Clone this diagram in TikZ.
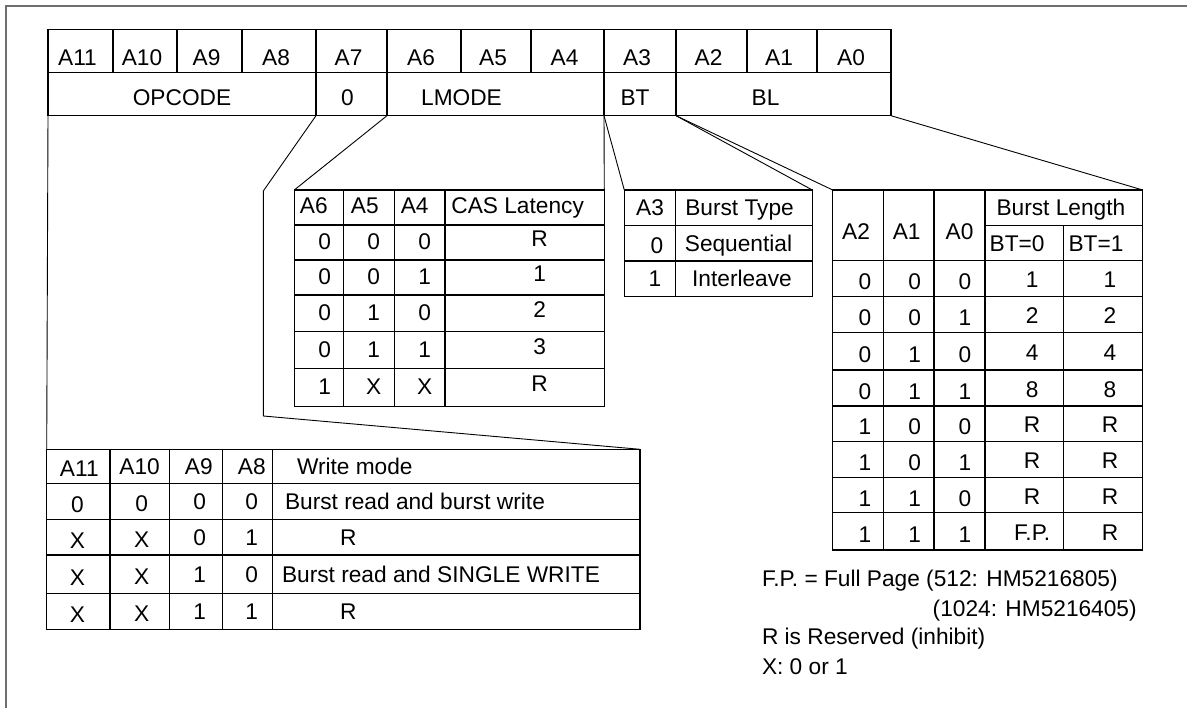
\documentclass[tikz,border=0pt]{standalone}
\usepackage{fontspec}
\setmainfont{Liberation Sans}
\definecolor{framegray}{RGB}{110,110,110}
\tikzset{
  cellbox/.style={draw=black, line width=1.3pt, anchor=north west, inner sep=0pt, outer sep=0pt},
  txt/.style={font=\fontsize{22.7pt}{27pt}\selectfont, inner sep=0pt, outer sep=0pt, text height=16.2pt, text depth=0pt, anchor=center},
  conn/.style={draw=black, line width=0.9pt},
  framel/.style={draw=framegray, line width=1.3pt}
}
% cell with centred text: name, x1, y1, x2, y2, text, text options
\newcommand\tc[7]{%
  \node[cellbox, minimum width={(#4-#2)*1pt}, minimum height={(#5-#3)*1pt}] (#1) at (#2,#3) {};
  \node[txt, #7] (#1t) at (#1.center) {#6};}
% cell with left-aligned text: name, x1, y1, x2, y2, text, left offset
\newcommand\tcw[7]{%
  \node[cellbox, minimum width={(#4-#2)*1pt}, minimum height={(#5-#3)*1pt}] (#1) at (#2,#3) {};
  \node[txt, anchor=west, xshift=#7pt] (#1t) at (#1.west) {#6};}
\begin{document}
\begin{tikzpicture}[x=1pt,y=-1pt]
\useasboundingbox (0,0) rectangle (1187,708);
% frame
\coordinate (fTL) at (6,6);
\coordinate (fTR) at (1187,6);
\coordinate (fBL) at (6,708);
\draw[framel] (fTR) -- (fTL) -- (fBL);

% register
\foreach \n/\xa/\xb/\t in {1/48/113/A11, 2/113/177/A10, 3/177/242/A9, 4/242/316/A8,
  5/316/387/A7, 6/387/461/A6, 7/461/531/A5, 8/531/604/A4, 9/604/676/A3,
  10/676/747/A2, 11/747/817/A1, 12/817/891/A0}
  {\tc{reg-t\n}{\xa}{29.3}{\xb}{72.7}{\t}{xshift=-3pt,yshift=-6pt}}
\tc{reg-op}{48}{72.7}{316}{115.7}{OPCODE}{yshift=-3pt}
\tc{reg-zero}{316}{72.7}{387}{115.7}{0}{xshift=-4pt,yshift=-3pt}
\tc{reg-lm}{387}{72.7}{604}{115.7}{LMODE}{xshift=-34pt,yshift=-3pt}
\tc{reg-bt}{604}{72.7}{676}{115.7}{BT}{xshift=-5pt,yshift=-3pt}
\tc{reg-bl}{676}{72.7}{891}{115.7}{BL}{xshift=-18pt,yshift=-3pt}

% CAS latency table
\tc{cas-h1}{294.3}{190}{343.3}{225}{A6}{xshift=-5pt,yshift=2pt}
\tc{cas-h2}{343.3}{190}{394.3}{225}{A5}{xshift=-4pt,yshift=2pt}
\tc{cas-h3}{394.3}{190}{445}{225}{A4}{xshift=-5pt,yshift=2pt}
\tc{cas-h4}{445}{190}{604.3}{225}{CAS Latency}{xshift=-7pt,yshift=2pt}
\foreach \r/\ya/\yb/\a/\b/\c/\v in {1/225/260/0/0/0/R, 2/260/295/0/0/1/1, 3/295/331.7/0/1/0/2,
  4/331.7/368.3/0/1/1/3, 5/368.3/406.7/1/X/X/R}
{
  \tc{cas-\r-1}{294.3}{\ya}{343.3}{\yb}{\a}{xshift=6pt,yshift=1pt}
  \tc{cas-\r-2}{343.3}{\ya}{394.3}{\yb}{\b}{xshift=5pt,yshift=1pt}
  \tc{cas-\r-3}{394.3}{\ya}{445}{\yb}{\c}{xshift=5pt,yshift=1pt}
  \tc{cas-\r-4}{445}{\ya}{604.3}{\yb}{\v}{xshift=15pt,yshift=4pt}
}

% Burst type table
\tc{bt-h1}{624.3}{190}{675.7}{225.3}{A3}{}
\tc{bt-h2}{675.7}{190}{812.3}{225.3}{Burst Type}{xshift=-4.5pt}
\tc{bt-1-1}{624.3}{225.3}{675.7}{261}{0}{xshift=7pt,yshift=-2pt}
\tc{bt-1-2}{675.7}{225.3}{812.3}{261}{Sequential}{xshift=-5.5pt}
\tc{bt-2-1}{624.3}{261}{675.7}{296.7}{1}{xshift=5pt}
\tc{bt-2-2}{675.7}{261}{812.3}{296.7}{Interleave}{xshift=-2pt}

% Burst length table
\tc{bl-h1}{832.7}{190}{883.3}{260.7}{A2}{xshift=-2pt,yshift=-6pt}
\tc{bl-h2}{883.3}{190}{934}{260.7}{A1}{xshift=-2pt,yshift=-6pt}
\tc{bl-h3}{934}{190}{985}{260.7}{A0}{yshift=-6pt}
\tc{bl-len}{985}{190}{1142.7}{225.7}{Burst Length}{xshift=-3pt}
\tc{bl-b0}{985}{225.7}{1063.3}{260.7}{BT=0}{xshift=-7pt}
\tc{bl-b1}{1063.3}{225.7}{1142.7}{260.7}{BT=1}{xshift=-7pt}
\foreach \r/\ya/\yb/\a/\b/\c/\u/\v in {1/260.7/296.7/0/0/0/1/1, 2/296.7/332.7/0/0/1/2/2,
  3/332.7/370/0/1/0/4/4, 4/370/406/0/1/1/8/8, 5/406/441.7/1/0/0/R/R,
  6/441.7/477.7/1/0/1/R/R, 7/477.7/512.7/1/1/0/R/R, 8/512.7/550/1/1/1/F.P./R}
{
  \tc{bl-\r-1}{832.7}{\ya}{883.3}{\yb}{\a}{xshift=7pt,yshift=-3pt}
  \tc{bl-\r-2}{883.3}{\ya}{934}{\yb}{\b}{xshift=6pt,yshift=-3pt}
  \tc{bl-\r-3}{934}{\ya}{985}{\yb}{\c}{xshift=5.5pt,yshift=-3pt}
  \tc{bl-\r-4}{985}{\ya}{1063.3}{\yb}{\u}{xshift=8pt,yshift=-1pt}
  \tc{bl-\r-5}{1063.3}{\ya}{1142.7}{\yb}{\v}{xshift=7pt,yshift=-1pt}
}

% Write mode table
\tc{wm-h1}{46.7}{449.3}{110}{483.3}{A11}{xshift=1pt,yshift=-2pt}
\tc{wm-h2}{110}{449.3}{169.3}{483.3}{A10}{}
\tc{wm-h3}{169.3}{449.3}{222.3}{483.3}{A9}{xshift=3pt}
\tc{wm-h4}{222.3}{449.3}{272.3}{483.3}{A8}{xshift=4.5pt}
\tcw{wm-h5}{272.3}{449.3}{640}{483.3}{Write mode}{24.7}
\foreach \r/\ya/\yb/\a/\b/\c/\d/\t/\o in {1/483.3/519.3/0/0/0/0/Burst read and burst write/12.7,
  2/519.3/555/X/X/0/1/R/67.7, 3/555/593.3/X/X/1/0/Burst read and SINGLE WRITE/9.7,
  4/593.3/629.3/X/X/1/1/R/67.7}
{
  \tc{wm-\r-1}{46.7}{\ya}{110}{\yb}{\a}{xshift=-1pt,yshift=-3pt}
  \tc{wm-\r-2}{110}{\ya}{169.3}{\yb}{\b}{xshift=2pt,yshift=-2pt}
  \tc{wm-\r-3}{169.3}{\ya}{222.3}{\yb}{\c}{xshift=4pt}
  \tc{wm-\r-4}{222.3}{\ya}{272.3}{\yb}{\d}{xshift=4.5pt}
  \tcw{wm-\r-5}{272.3}{\ya}{640}{\yb}{\t}{\o}
}

% notes
\node[txt, anchor=west] (n1) at (762,578) {F.P. = Full Page (512: HM5216805)};
\node[txt, anchor=west] (n2) at (932.7,608) {(1024: HM5216405)};
\node[txt, anchor=west] (n3) at (762,636.5) {R is Reserved (inhibit)};
\node[txt, anchor=west] (n4) at (762,666) {X: 0 or 1};

% connectors
\coordinate (k1) at (263.3,191);
\coordinate (k2) at (263.3,416);
\draw[conn] (reg-op.south west) -- (wm-h1.north west);
\draw[conn] (reg-zero.south west) -- (k1) -- (k2) -- (wm-h5.north east);
\draw[conn] (reg-lm.south west) -- (cas-h1.north west);
\draw[conn] (reg-bt.south west) -- (cas-h4.north east);
\draw[conn] (reg-bt.south west) -- (bt-h1.north west);
\draw[conn] (reg-bt.south east) -- (bt-h2.north east);
\draw[conn] (reg-bt.south east) -- (bl-h1.north west);
\draw[conn] (reg-bl.south east) -- (bl-len.north east);
\end{tikzpicture}
\end{document}
